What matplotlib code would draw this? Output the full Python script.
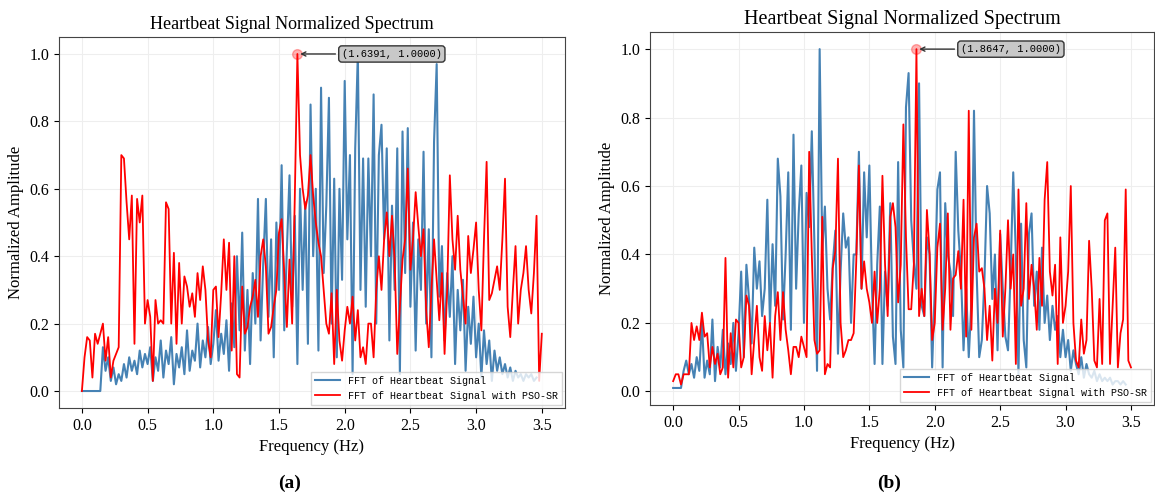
import numpy as np
import matplotlib.pyplot as plt

# spectra, 0.02 Hz spacing
blue_a = [0.0, 0.0, 0.0, 0.0, 0.0, 0.0, 0.0, 0.0, 0.13, 0.06,
          0.10, 0.03, 0.07, 0.02, 0.05, 0.03, 0.08, 0.04, 0.10, 0.06,
          0.09, 0.05, 0.12, 0.07, 0.11, 0.08, 0.13, 0.03, 0.10, 0.06,
          0.15, 0.04, 0.12, 0.08, 0.16, 0.02, 0.11, 0.07, 0.13, 0.05,
          0.18, 0.06, 0.12, 0.09, 0.20, 0.07, 0.15, 0.10, 0.19, 0.08,
          0.14, 0.24, 0.09, 0.17, 0.11, 0.21, 0.06, 0.26, 0.13, 0.40,
          0.18, 0.47, 0.12, 0.30, 0.08, 0.35, 0.20, 0.57, 0.15, 0.38,
          0.57, 0.22, 0.45, 0.10, 0.50, 0.30, 0.67, 0.18, 0.42, 0.64,
          0.25, 0.52, 0.08, 0.60, 0.30, 0.56, 0.14, 0.85, 0.40, 0.60,
          0.12, 0.90, 0.35, 0.55, 0.87, 0.20, 0.63, 0.10, 0.60, 0.33,
          0.92, 0.45, 0.70, 0.05, 0.72, 1.00, 0.30, 0.69, 0.25, 0.69,
          0.40, 0.88, 0.20, 0.70, 0.79, 0.45, 0.72, 0.15, 0.55, 0.30,
          0.72, 0.05, 0.77, 0.35, 0.78, 0.25, 0.50, 0.12, 0.45, 0.30,
          0.71, 0.20, 0.48, 0.10, 0.74, 0.97, 0.28, 0.43, 0.15, 0.35,
          0.22, 0.40, 0.08, 0.30, 0.18, 0.33, 0.06, 0.25, 0.14, 0.28,
          0.10, 0.20, 0.04, 0.18, 0.08, 0.15, 0.03, 0.12, 0.06, 0.10,
          0.05, 0.08, 0.04, 0.07, 0.03, 0.06, 0.04, 0.05, 0.03, 0.05,
          0.04, 0.05, 0.03, 0.04]
red_a = [0.00, 0.10, 0.16, 0.15, 0.04, 0.17, 0.14, 0.17, 0.20, 0.09,
         0.16, 0.04, 0.09, 0.11, 0.13, 0.70, 0.69, 0.56, 0.45, 0.58,
         0.14, 0.57, 0.50, 0.58, 0.20, 0.27, 0.22, 0.03, 0.27, 0.20,
         0.21, 0.20, 0.56, 0.54, 0.20, 0.41, 0.14, 0.38, 0.20, 0.34,
         0.31, 0.25, 0.29, 0.22, 0.35, 0.27, 0.37, 0.30, 0.15, 0.10,
         0.30, 0.31, 0.16, 0.29, 0.45, 0.30, 0.44, 0.12, 0.40, 0.05,
         0.04, 0.31, 0.17, 0.19, 0.25, 0.28, 0.33, 0.22, 0.40, 0.45,
         0.37, 0.17, 0.19, 0.25, 0.30, 0.47, 0.51, 0.35, 0.19, 0.39,
         0.20, 0.57, 1.00, 0.70, 0.60, 0.54, 0.58, 0.70, 0.58, 0.50,
         0.44, 0.40, 0.30, 0.20, 0.17, 0.29, 0.08, 0.30, 0.15, 0.09,
         0.18, 0.25, 0.20, 0.28, 0.15, 0.24, 0.10, 0.13, 0.08, 0.20,
         0.20, 0.10, 0.30, 0.40, 0.30, 0.45, 0.53, 0.40, 0.52, 0.39,
         0.11, 0.25, 0.39, 0.45, 0.66, 0.36, 0.45, 0.59, 0.49, 0.40,
         0.48, 0.24, 0.13, 0.30, 0.45, 0.33, 0.21, 0.35, 0.11, 0.30,
         0.64, 0.45, 0.36, 0.52, 0.36, 0.28, 0.20, 0.46, 0.35, 0.42,
         0.50, 0.30, 0.18, 0.45, 0.68, 0.27, 0.29, 0.33, 0.37, 0.30,
         0.45, 0.63, 0.25, 0.16, 0.30, 0.43, 0.20, 0.30, 0.35, 0.43,
         0.30, 0.23, 0.35, 0.52, 0.03, 0.17]

blue_b = [0.01, 0.01, 0.01, 0.01, 0.06, 0.09, 0.05, 0.08, 0.04, 0.10,
          0.06, 0.20, 0.04, 0.09, 0.05, 0.21, 0.03, 0.13, 0.07, 0.18,
          0.05, 0.14, 0.08, 0.20, 0.06, 0.17, 0.35, 0.10, 0.37, 0.27,
          0.14, 0.42, 0.30, 0.38, 0.22, 0.30, 0.56, 0.20, 0.43, 0.25,
          0.68, 0.57, 0.21, 0.40, 0.64, 0.18, 0.75, 0.30, 0.52, 0.66,
          0.20, 0.58, 0.48, 0.76, 0.43, 0.06, 1.00, 0.41, 0.54, 0.30,
          0.21, 0.37, 0.47, 0.11, 0.35, 0.52, 0.42, 0.45, 0.20, 0.40,
          0.40, 0.70, 0.30, 0.64, 0.45, 0.66, 0.30, 0.08, 0.37, 0.54,
          0.08, 0.35, 0.25, 0.55, 0.16, 0.08, 0.67, 0.18, 0.07, 0.83,
          0.93, 0.50, 0.38, 0.30, 0.90, 0.25, 0.22, 0.45, 0.40, 0.07,
          0.30, 0.59, 0.64, 0.07, 0.55, 0.40, 0.35, 0.22, 0.70, 0.47,
          0.35, 0.12, 0.30, 0.10, 0.26, 0.82, 0.35, 0.10, 0.15, 0.33,
          0.60, 0.52, 0.27, 0.40, 0.12, 0.46, 0.30, 0.16, 0.12, 0.35,
          0.64, 0.40, 0.05, 0.49, 0.15, 0.07, 0.46, 0.52, 0.25, 0.35,
          0.18, 0.42, 0.20, 0.28, 0.15, 0.25, 0.18, 0.22, 0.10, 0.18,
          0.10, 0.15, 0.06, 0.12, 0.08, 0.05, 0.10, 0.04, 0.08, 0.05,
          0.04, 0.06, 0.03, 0.05, 0.03, 0.04, 0.03, 0.04, 0.02, 0.03,
          0.03, 0.02, 0.03, 0.02]
red_b = [0.03, 0.05, 0.05, 0.02, 0.05, 0.05, 0.05, 0.20, 0.15, 0.19,
         0.15, 0.23, 0.16, 0.17, 0.07, 0.13, 0.08, 0.11, 0.05, 0.07,
         0.39, 0.04, 0.17, 0.07, 0.21, 0.20, 0.07, 0.10, 0.28, 0.25,
         0.05, 0.15, 0.25, 0.10, 0.06, 0.22, 0.12, 0.20, 0.04, 0.22,
         0.29, 0.15, 0.29, 0.18, 0.12, 0.05, 0.13, 0.13, 0.10, 0.16,
         0.13, 0.10, 0.70, 0.40, 0.15, 0.11, 0.12, 0.51, 0.05, 0.08,
         0.07, 0.36, 0.41, 0.68, 0.20, 0.10, 0.12, 0.15, 0.15, 0.17,
         0.38, 0.66, 0.30, 0.38, 0.30, 0.26, 0.20, 0.35, 0.20, 0.30,
         0.63, 0.37, 0.22, 0.51, 0.55, 0.48, 0.26, 0.37, 0.78, 0.45,
         0.24, 0.24, 0.37, 1.00, 0.22, 0.30, 0.22, 0.53, 0.41, 0.15,
         0.20, 0.42, 0.49, 0.18, 0.30, 0.52, 0.18, 0.33, 0.34, 0.41,
         0.30, 0.56, 0.16, 0.82, 0.18, 0.45, 0.49, 0.35, 0.36, 0.30,
         0.15, 0.25, 0.09, 0.30, 0.20, 0.47, 0.16, 0.30, 0.50, 0.30,
         0.40, 0.08, 0.59, 0.25, 0.30, 0.55, 0.27, 0.37, 0.30, 0.18,
         0.39, 0.25, 0.56, 0.67, 0.35, 0.28, 0.37, 0.08, 0.45, 0.20,
         0.25, 0.35, 0.60, 0.20, 0.09, 0.07, 0.21, 0.11, 0.15, 0.44,
         0.30, 0.09, 0.07, 0.27, 0.08, 0.50, 0.52, 0.08, 0.25, 0.42,
         0.07, 0.17, 0.21, 0.59, 0.09, 0.07]

peak_labels = ["(1.6391, 1.0000)", "(1.8647, 1.0000)"]
panel_labels = ["(a)", "(b)"]

plt.rcParams['font.family'] = 'Liberation Serif'

fig = plt.figure(figsize=(11.55, 4.95), dpi=100)
ax_a = fig.add_axes([0.051, 0.176, 0.438, 0.749])
ax_b = fig.add_axes([0.563, 0.182, 0.436, 0.753])

# title size / position differ a little between the two panels in the source
title_x = [0.46, 0.5]
title_size = [13, 14.5]

panels = [(ax_a, blue_a, red_a), (ax_b, blue_b, red_b)]
for i, (ax, blue, red) in enumerate(panels):
    fb = np.arange(len(blue)) * 0.02
    fr = np.arange(len(red)) * 0.02
    ax.plot(fb, blue, color='#4682B4', lw=1.5, label='FFT of Heartbeat Signal')
    ax.plot(fr, red, color='#FF0000', lw=1.3, label='FFT of Heartbeat Signal with PSO-SR')

    # mark the peak
    k = int(np.argmax(red))
    ax.plot(fr[k], red[k], 'o', color='#FF0000', alpha=0.3, ms=7)
    ax.annotate(peak_labels[i], xy=(fr[k], red[k]), xytext=(32, 0),
                textcoords='offset points', ha='left', va='center',
                family='Liberation Mono', fontsize=7.5,
                bbox=dict(boxstyle='round,pad=0.3', fc='#c8c8c8', ec='#333333', lw=1),
                arrowprops=dict(arrowstyle='->', color='#333333', lw=1))

    ax.set_title('Heartbeat Signal Normalized Spectrum', fontsize=title_size[i], x=title_x[i])
    ax.set_xlabel('Frequency (Hz)', fontsize=12)
    ax.set_ylabel('Normalized Amplitude', fontsize=12)
    ax.set_xticks(np.arange(0, 3.51, 0.5))
    ax.set_yticks(np.arange(0, 1.01, 0.2))
    ax.tick_params(labelsize=11.5)
    ax.grid(True, color='#eeeeee', lw=0.8)
    for s in ax.spines.values():
        s.set_color('#444444')
    ax.legend(loc='lower right', prop={'family': 'Liberation Mono', 'size': 7.2},
              framealpha=0.8, edgecolor='#cccccc', fancybox=False,
              borderaxespad=0.3, handlelength=2.5)

fig.text(290 / 1155, 1 - 483 / 495, panel_labels[0], ha='center', va='center',
         fontsize=14, fontweight='bold')
fig.text(889 / 1155, 1 - 483 / 495, panel_labels[1], ha='center', va='center',
         fontsize=14, fontweight='bold')

fig.savefig('out.png', dpi=100)
